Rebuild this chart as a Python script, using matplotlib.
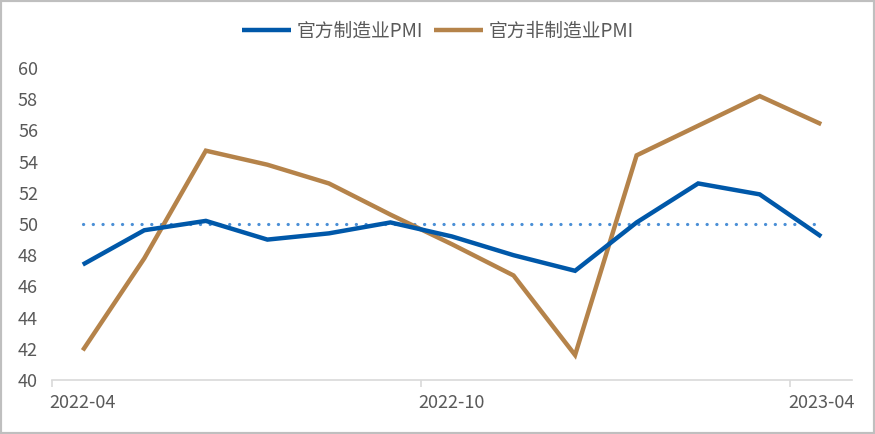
import matplotlib
matplotlib.use("Agg")
import matplotlib.pyplot as plt
from matplotlib.patches import Rectangle

plt.rcParams['font.family'] = ['Noto Sans CJK SC', 'DejaVu Sans']

months = ["2022-04", "2022-05", "2022-06", "2022-07", "2022-08", "2022-09", "2022-10",
          "2022-11", "2022-12", "2023-01", "2023-02", "2023-03", "2023-04"]
mfg_pmi = [47.4, 49.6, 50.2, 49.0, 49.4, 50.1, 49.2, 48.0, 47.0, 50.1, 52.6, 51.9, 49.2]
non_mfg_pmi = [41.9, 47.8, 54.7, 53.8, 52.6, 50.6, 48.7, 46.7, 41.6, 54.4, 56.3, 58.2, 56.4]
threshold = [50.0] * len(months)
label_months = ["2022-04", "2022-10", "2023-04"]
series_names = ["官方制造业PMI", "官方非制造业PMI"]

fig = plt.figure(figsize=(8.75, 4.34), dpi=100)
ax = fig.add_axes([52/875, 1-380/434, 800/875, 312/434])

x = list(range(len(months)))
ax.plot(x, threshold, color='#4A8FD6', lw=2.3, linestyle=(0, (0.05, 3.0)),
        dash_capstyle='round', zorder=1)
ax.plot(x, mfg_pmi, color='#0058A9', lw=3.2, label=series_names[0], zorder=3,
        solid_capstyle='butt', solid_joinstyle='miter')
ax.plot(x, non_mfg_pmi, color='#B5834A', lw=3.2, label=series_names[1], zorder=2,
        solid_capstyle='butt', solid_joinstyle='miter')

ax.set_xlim(-0.5, len(months) - 0.5)
ax.set_ylim(40, 60)
ax.set_yticks(range(40, 61, 2))
ax.tick_params(axis='y', length=0, pad=10, labelsize=13, labelcolor='#595959')

# boundary tick marks (major) and labels at data points (minor)
lab_pos = [months.index(m) for m in label_months]
ax.set_xticks([p - 0.5 for p in lab_pos])
ax.set_xticklabels([])
ax.set_xticks(lab_pos, minor=True)
ax.set_xticklabels(label_months, minor=True)
ax.tick_params(axis='x', which='major', length=5, color='#D9D9D9', width=1.2, direction='out')
ax.tick_params(axis='x', which='minor', length=0, pad=10, labelsize=13, labelcolor='#595959')

for s in ['top', 'right', 'left']:
    ax.spines[s].set_visible(False)
ax.spines['bottom'].set_color('#D9D9D9')
ax.spines['bottom'].set_linewidth(1.2)

leg = fig.legend(loc='center', bbox_to_anchor=(0.5, 1-31/434), ncol=2, frameon=False,
                 fontsize=13.5, handlelength=2.6, columnspacing=0.6, handletextpad=0.3)
for t in leg.get_texts():
    t.set_color('#595959')

fig.patches.append(Rectangle((0, 0), 1, 1, transform=fig.transFigure, fill=False,
                             edgecolor='#BFBFBF', lw=3, zorder=10))

fig.savefig('out.png', dpi=100)
